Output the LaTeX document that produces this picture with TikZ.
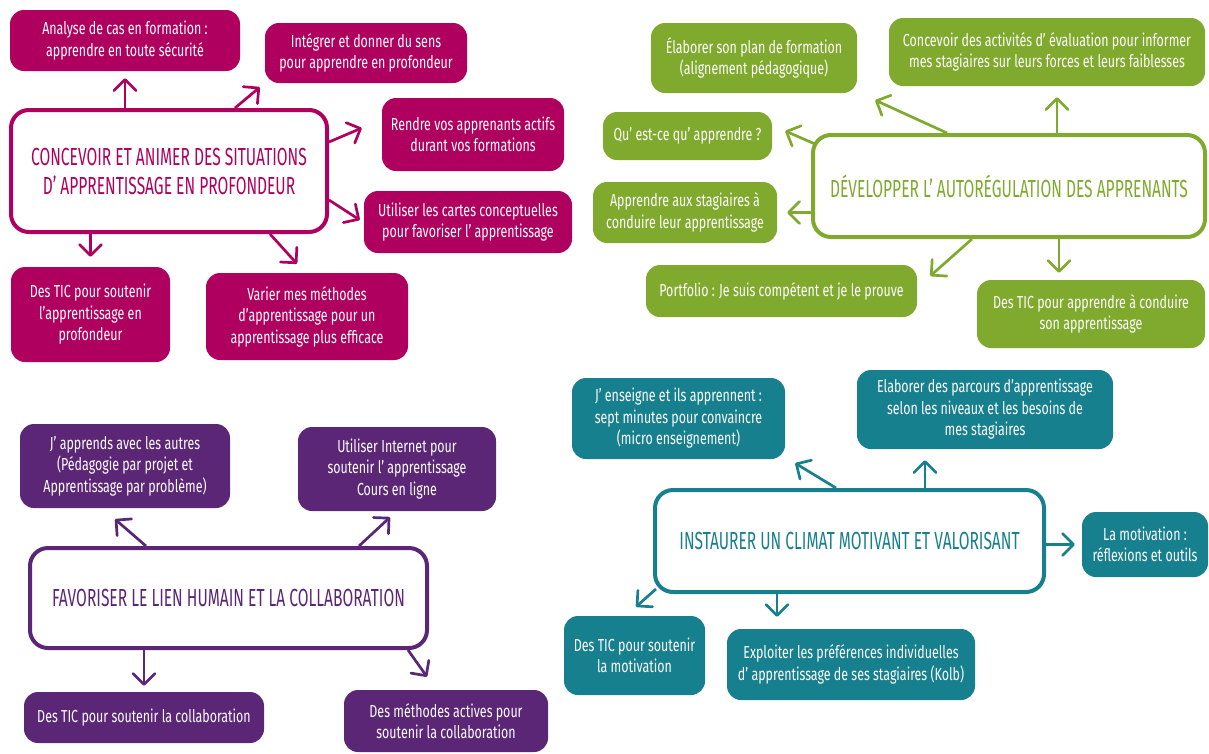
\documentclass[tikz,border=0pt]{standalone}
\usepackage{fontspec}
\setmainfont{Fira Sans}[FakeStretch=0.715]
\newfontfamily\hubfont{Fira Sans}[FakeStretch=0.63]
\usetikzlibrary{arrows.meta}
\definecolor{cmag}{HTML}{B0005F}
\definecolor{cgreen}{HTML}{80AA2E}
\definecolor{cpurple}{HTML}{5C2677}
\definecolor{cteal}{HTML}{17808F}
\begin{document}
\begin{tikzpicture}[x=1pt,y=-1pt,
hub/.style={draw=#1, text=#1, fill=white, line width=4pt, rounded corners=18pt, align=center, font=\hubfont\fontsize{24.7}{29}\selectfont},
leaf/.style={fill=#1, text=white, rounded corners=14pt, align=center, font=\fontsize{17.4}{21.5}\selectfont},
sz/.style 2 args={minimum width=#1pt, minimum height=#2pt},
arr/.style={draw=#1, line width=2.7pt, -{Straight Barb[length=11pt,width=22pt,round]}}]
%\draw[help lines] (0,0) grid[step=50] (1209,753);
\useasboundingbox (0,0) rectangle (1209,753);
% concevoir
\node (mc) at (169,171) [hub=cmag, sz={316}{122}] {CONCEVOIR ET ANIMER DES SITUATIONS\\D’ APPRENTISSAGE EN PROFONDEUR};
\node (a1) at (125,40.5) [leaf=cmag, sz={230}{61}] {Analyse de cas en formation :\\apprendre en toute sécurité};
\node (a2) at (366,53) [leaf=cmag, sz={202}{60}] {Intégrer et donner du sens\\pour apprendre en profondeur};
\node (a3) at (473,134.5) [leaf=cmag, sz={182}{73}] {Rendre vos apprenants actifs\\durant vos formations};
\node (a4) at (468,222) [leaf=cmag, sz={208}{62}] {Utiliser les cartes conceptuelles\\pour favoriser l’ apprentissage};
\node (a5) at (90.5,314.5) [leaf=cmag, sz={159}{95}] {Des TIC pour soutenir\\l'apprentissage en\\profondeur};
\node (a6) at (307,316.5) [leaf=cmag, sz={202}{87}] {Varier mes méthodes\\d'apprentissage pour un\\apprentissage plus efficace};
\draw[arr=cmag] (mc.north -| a1.south) -- ([yshift=-7pt]a1.south);
\draw[arr=cmag] ([xshift=66pt]mc.north) -- ([shift={(-5,4)}]a2.south west);
\draw[arr=cmag] ([shift={(0,-29)}]mc.east) -- ([shift={(-20,-6.5)}]a3.west);
\draw[arr=cmag] ([shift={(0,29)}]mc.east) -- ([shift={(-4,-2)}]a4.west);
\draw[arr=cmag] (mc.south -| a5.north) -- ([yshift=10pt]a5.north);
\draw[arr=cmag] ([xshift=101pt]mc.south) -- ([shift={(-10,-9)}]a6.north);
% autoregulation
\node (gc) at (1009,186) [hub=cgreen, sz={392}{102}] {DÉVELOPPER L’ AUTORÉGULATION DES APPRENANTS};
\node (g1) at (754,58) [leaf=cgreen, sz={206}{70}] {Élaborer son plan de formation\\(alignement pédagogique)};
\node (g2) at (1047,52) [leaf=cgreen, sz={316}{68}] {Concevoir des activités d’ évaluation pour informer\\mes stagiaires sur leurs forces et leurs faiblesses};
\node (g3) at (687.5,136) [leaf=cgreen, sz={169}{48}] {Qu’ est-ce qu’ apprendre ?};
\node (g4) at (685,212.5) [leaf=cgreen, sz={184}{61}] {Apprendre aux stagiaires à\\conduire leur apprentissage};
\node (g5) at (781.5,291) [leaf=cgreen, sz={271}{52}] {Portfolio : Je suis compétent et je le prouve};
\node (g6) at (1091,314) [leaf=cgreen, sz={228}{68}] {Des TIC pour apprendre à conduire\\son apprentissage};
\draw[arr=cgreen] ([xshift=-62pt]gc.north) -- ([shift={(18,7)}]g1.south east);
\draw[arr=cgreen] ([xshift=48pt]gc.north) -- ([shift={(10,11)}]g2.south);
\draw[arr=cgreen] ([shift={(4,-42)}]gc.west) -- ([shift={(13,-5)}]g3.east);
\draw[arr=cgreen] (gc.west |- g4.east) -- ([xshift=10pt]g4.east);
\draw[arr=cgreen] ([xshift=-37pt]gc.south) -- ([shift={(13,-15)}]g5.east);
\draw[arr=cgreen] ([xshift=50pt]gc.south) -- ([shift={(-32,-7)}]g6.north);
% collaboration
\node (pc) at (228.5,598) [hub=cpurple, sz={397}{100}] {FAVORISER LE LIEN HUMAIN ET LA COLLABORATION};
\node (p1) at (125,466) [leaf=cpurple, sz={210}{84}] {J’ apprends avec les autres\\(Pédagogie par projet et\\Apprentissage par problème)};
\node (p2) at (397,469) [leaf=cpurple, sz={198}{84}] {Utiliser Internet pour\\soutenir l’ apprentissage\\Cours en ligne};
\node (p3) at (144,717.5) [leaf=cpurple, sz={240}{51}] {Des TIC pour soutenir la collaboration};
\node (p4) at (446,721) [leaf=cpurple, sz={204}{62}] {Des méthodes actives pour\\soutenir la collaboration};
\draw[arr=cpurple] ([xshift=-82.5pt]pc.north) -- ([shift={(-10,11)}]p1.south);
\draw[arr=cpurple] ([xshift=130.5pt]pc.north) -- ([shift={(-7,6)}]p2.south);
\draw[arr=cpurple] (pc.south -| p3.north) -- ([yshift=6pt]p3.north);
\draw[arr=cpurple] ([xshift=179.5pt]pc.south) -- ([shift={(-19,-13)}]p4.north);
% climat
\node (tc) at (849.5,541) [hub=cteal, sz={389}{102}] {INSTAURER UN CLIMAT MOTIVANT ET VALORISANT};
\node (t1) at (678.5,418.5) [leaf=cteal, sz={213}{81}] {J’ enseigne et ils apprennent :\\sept minutes pour convaincre\\(micro enseignement)};
\node (t2) at (985,409.5) [leaf=cteal, sz={256}{79}] {Elaborer des parcours d'apprentissage\\selon les niveaux et les besoins de\\mes stagiaires};
\node (t3) at (1145,544.5) [leaf=cteal, sz={126}{65}] {La motivation :\\réflexions et outils};
\node (t4) at (634.5,655.5) [leaf=cteal, sz={141}{79}] {Des TIC pour soutenir\\la motivation};
\node (t5) at (851,664.5) [leaf=cteal, sz={248}{71}] {Exploiter les préférences individuelles\\d’ apprentissage de ses stagiaires (Kolb)};
\draw[arr=cteal] ([xshift=-13.5pt]tc.north) -- ([shift={(10,4)}]t1.south east);
\draw[arr=cteal] ([xshift=75.5pt]tc.north) -- ([shift={(-60,11)}]t2.south);
\draw[arr=cteal] (tc.east |- t3.west) -- ([xshift=-7pt]t3.west);
\draw[arr=cteal] ([shift={(3,-5)}]tc.south west) -- ([shift={(1.5,-9)}]t4.north);
\draw[arr=cteal] ([xshift=-72.5pt]tc.south) -- ([shift={(-74,-12)}]t5.north);
\end{tikzpicture}
\end{document}
